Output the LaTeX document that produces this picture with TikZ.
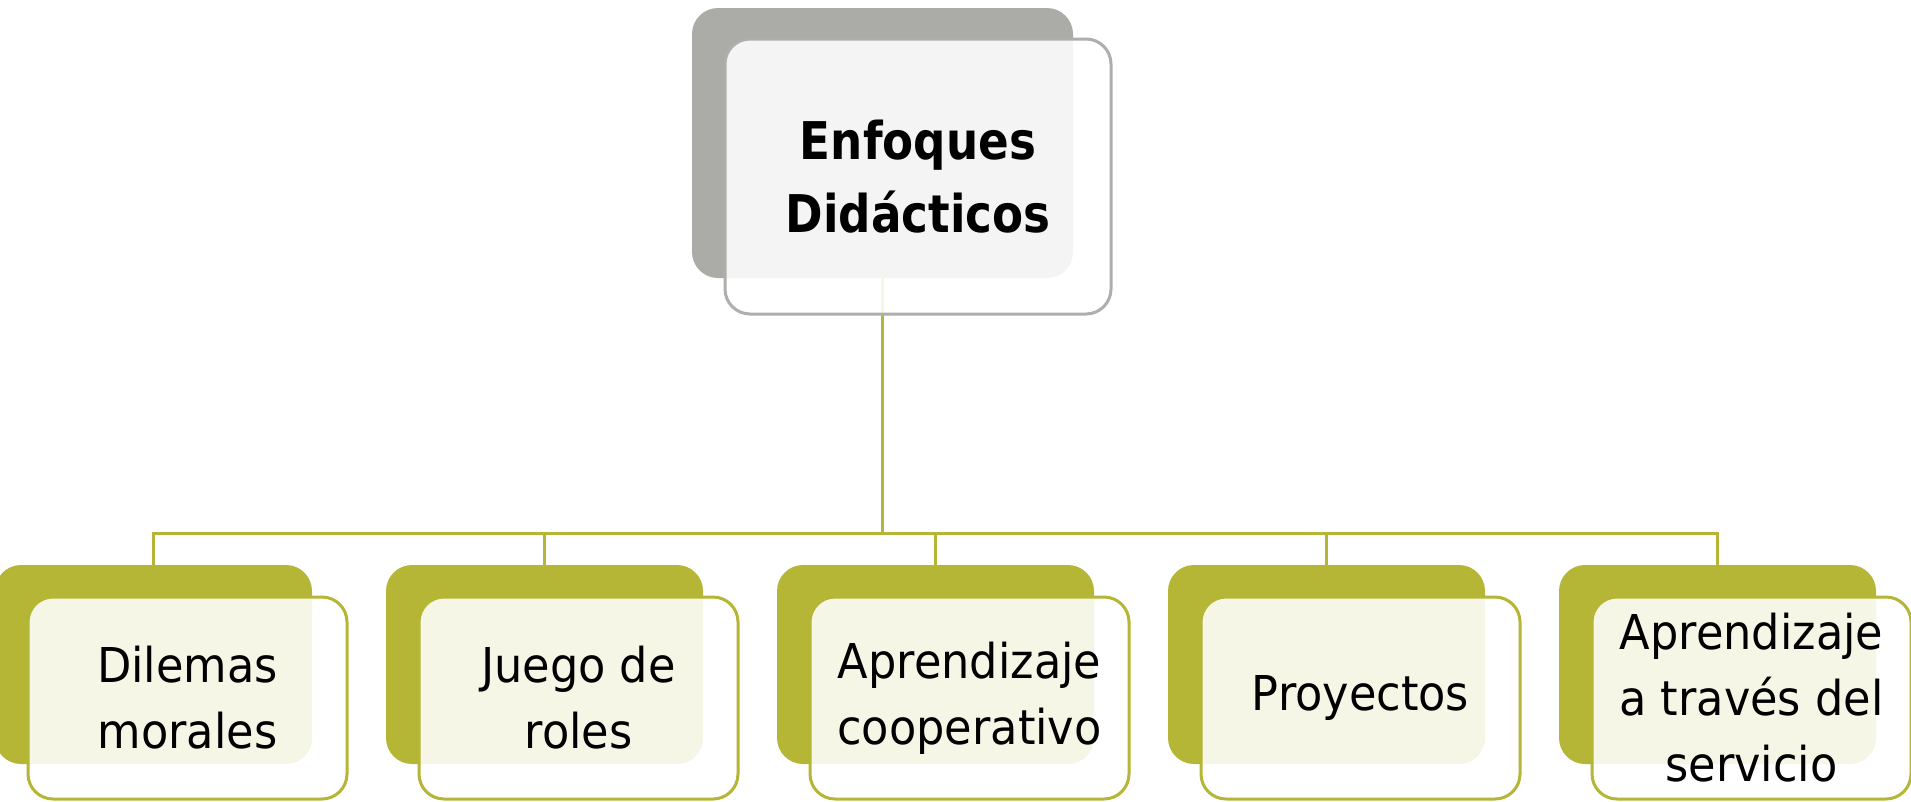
\documentclass[tikz,border=0pt]{standalone}
\usepackage{fontspec}
\setmainfont{DejaVu Sans}[FakeStretch=0.93]
\newfontfamily\titlefont{DejaVu Sans}[FakeStretch=0.87]
\definecolor{boxgrey}{HTML}{ABACA7}
\definecolor{linegrey}{HTML}{AEAEAB}
\definecolor{olive}{HTML}{B5B536}
\tikzset{
  darkbox/.style={draw=none, fill=#1, rounded corners=26pt, inner sep=0pt},
  litebox/.style={draw=#1, line width=3pt, fill=white, fill opacity=0.88, text opacity=1,
    rounded corners=25pt, inner sep=0pt, align=center, text=black},
  childtext/.style={font=\fontsize{48}{66}\selectfont},
  titletext/.style={font=\titlefont\bfseries\fontsize{52}{73}\selectfont},
  conn/.style={draw=olive, line width=3pt}
}
\begin{document}
\begin{tikzpicture}[x=1pt,y=-1pt]
\useasboundingbox (0,0) rectangle (1911,801);
% top
\node[darkbox=boxgrey, minimum width=381pt, minimum height=270pt] (topd) at (882.5,143) {};
\coordinate (bus) at (882,533);
% child dark boxes
\foreach \i in {1,...,5}{
  \pgfmathsetmacro{\cx}{-5+391*(\i-1)+158.5}
  \node[darkbox=olive, minimum width=317pt, minimum height=199pt] (c\i d) at (\cx,664.5) {};
}
% connectors (under the light boxes)
\foreach \i in {1,...,5}{
  \draw[conn] (topd.south) -- (topd.south |- bus) -| (c\i d.north);
}
% top light box
\node[litebox=linegrey, minimum width=386pt, minimum height=275pt, titletext] (top) at (918,176.5) {Enfoques\\Didácticos};
% child light boxes
\foreach \i/\t in {1/{Dilemas\\morales},2/{Juego de\\roles},3/{Aprendizaje\\cooperativo},4/{Proyectos},5/{Aprendizaje\\a través del\\servicio}}{
  \pgfmathsetmacro{\wx}{-5+391*(\i-1)+33+159.5}
  \node[litebox=olive, minimum width=319pt, minimum height=202pt, childtext] (c\i) at (\wx,698) {\t};
}
\end{tikzpicture}
\end{document}
